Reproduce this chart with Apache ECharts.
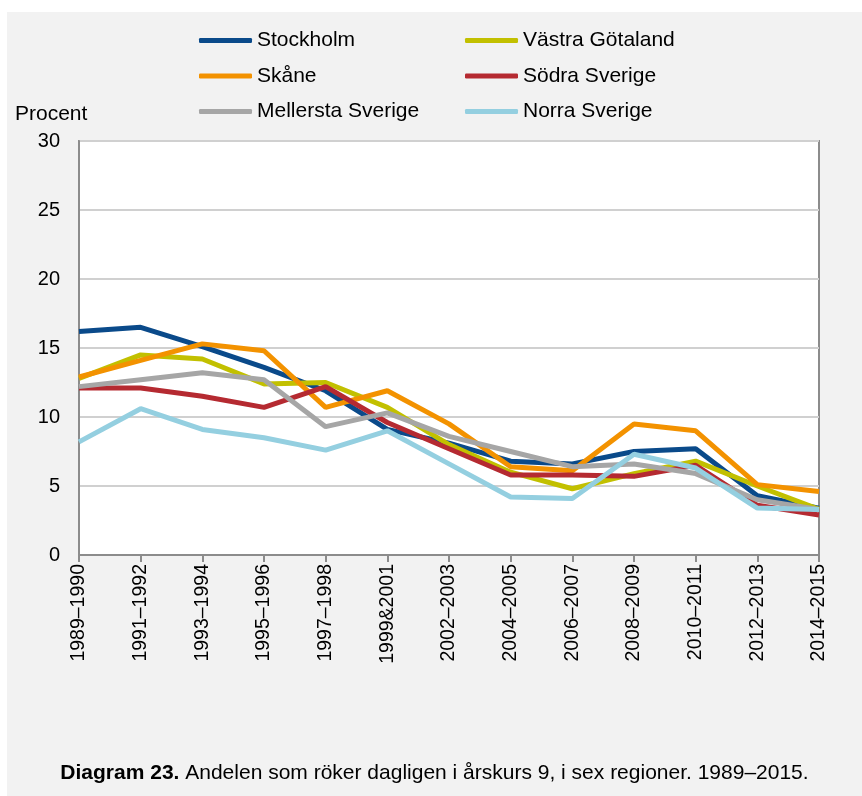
<!DOCTYPE html>
<html>
<head>
<meta charset="utf-8">
<script src="https://cdn.jsdelivr.net/npm/echarts@6/dist/echarts.min.js"></script>
<style>
  html, body { margin: 0; padding: 0; background: #fff; }
  #wrap { position: absolute; left: 7px; top: 12px; width: 855px; height: 784px; background: #f2f2f2; }
  #chart { width: 855px; height: 784px; }
</style>
</head>
<body>
<div id="wrap"><div id="chart"></div></div>
<script>
/* categories and values */
const perioder = ['1989–1990', '1991–1992', '1993–1994', '1995–1996', '1997–1998', '1999&2001',
  '2002–2003', '2004–2005', '2006–2007', '2008–2009', '2010–2011', '2012–2013', '2014–2015'];

const stockholm = [16.2, 16.5, 15.1, 13.6, 11.9, 9.1, 8.1, 6.8, 6.6, 7.5, 7.7, 4.3, 3.4];
const vastraGotaland = [12.8, 14.5, 14.2, 12.4, 12.5, 10.7, 8.0, 6.0, 4.8, 5.9, 6.8, 5.0, 3.3];
const skane = [12.9, 14.1, 15.3, 14.8, 10.7, 11.9, 9.5, 6.4, 6.1, 9.5, 9.0, 5.1, 4.6];
const sodraSverige = [12.1, 12.1, 11.5, 10.7, 12.2, 9.6, 7.7, 5.8, 5.8, 5.7, 6.5, 3.6, 2.9];
const mellerstaSverige = [12.2, 12.7, 13.2, 12.7, 9.3, 10.3, 8.6, 7.5, 6.4, 6.6, 5.9, 4.0, 3.3];
const norraSverige = [8.2, 10.6, 9.1, 8.5, 7.6, 9.0, 6.6, 4.2, 4.1, 7.3, 6.3, 3.4, 3.3];

const yTicks = [0, 5, 10, 15, 20, 25, 30];

const serier = [
  { name: 'Stockholm', data: stockholm, color: '#0a4a8a' },
  { name: 'Västra Götaland', data: vastraGotaland, color: '#c2c000' },
  { name: 'Skåne', data: skane, color: '#f39200' },
  { name: 'Södra Sverige', data: sodraSverige, color: '#b52a31' },
  { name: 'Mellersta Sverige', data: mellerstaSverige, color: '#a6a6a6' },
  { name: 'Norra Sverige', data: norraSverige, color: '#94cfe0' }
];

const font = 'Arial, "Liberation Sans", sans-serif';

const chart = echarts.init(document.getElementById('chart'));

const legendBase = {
  orient: 'vertical',
  top: 18,
  padding: 0,
  icon: 'roundRect',
  itemWidth: 53,
  itemHeight: 5,
  itemGap: 14.5,
  textStyle: { fontFamily: font, fontSize: 21, color: '#000', lineHeight: 21 },
  selectedMode: false
};

const option = {
  animation: false,
  color: serier.map(s => s.color),
  title: [
    {
      text: 'Procent',
      left: 8, top: 92, padding: 0,
      textStyle: { fontFamily: font, fontSize: 21, fontWeight: 'normal', color: '#000' }
    },
    {
      text: '{b|Diagram 23.} Andelen som röker dagligen i årskurs 9, i sex regioner. 1989–2015.',
      left: 'center', top: 751, padding: 0,
      textStyle: {
        fontFamily: font, fontSize: 21, fontWeight: 'normal', color: '#000',
        rich: { b: { fontFamily: font, fontSize: 21, fontWeight: 'bold', color: '#000' } }
      }
    }
  ],
  legend: [
    Object.assign({}, legendBase, { left: 192, data: ['Stockholm', 'Skåne', 'Mellersta Sverige'] }),
    Object.assign({}, legendBase, { left: 458, data: ['Västra Götaland', 'Södra Sverige', 'Norra Sverige'] })
  ],
  grid: {
    left: 72, top: 129, right: 43, bottom: 241,
    show: true, backgroundColor: '#fff', borderColor: '#8c8c8c', borderWidth: 2,
    containLabel: false
  },
  xAxis: {
    type: 'category',
    data: perioder,
    boundaryGap: false,
    axisLine: { lineStyle: { color: '#8c8c8c', width: 2 } },
    axisTick: { show: true, length: 7, lineStyle: { color: '#8c8c8c', width: 2 } },
    axisLabel: { rotate: 90, fontFamily: font, fontSize: 19.5, color: '#000', margin: 9, interval: 0 }
  },
  yAxis: {
    type: 'value',
    min: yTicks[0], max: yTicks[yTicks.length - 1], interval: 5,
    axisLine: { show: true, lineStyle: { color: '#8c8c8c', width: 2 } },
    axisTick: { show: false },
    axisLabel: { fontFamily: font, fontSize: 20, color: '#000', margin: 19 },
    splitLine: { lineStyle: { color: '#d0d0d0', width: 2 } }
  },
  series: serier.map(s => ({
    name: s.name,
    type: 'line',
    data: s.data,
    symbol: 'none',
    lineStyle: { width: 5, color: s.color },
    itemStyle: { color: s.color }
  }))
};

chart.setOption(option);
</script>
</body>
</html>
